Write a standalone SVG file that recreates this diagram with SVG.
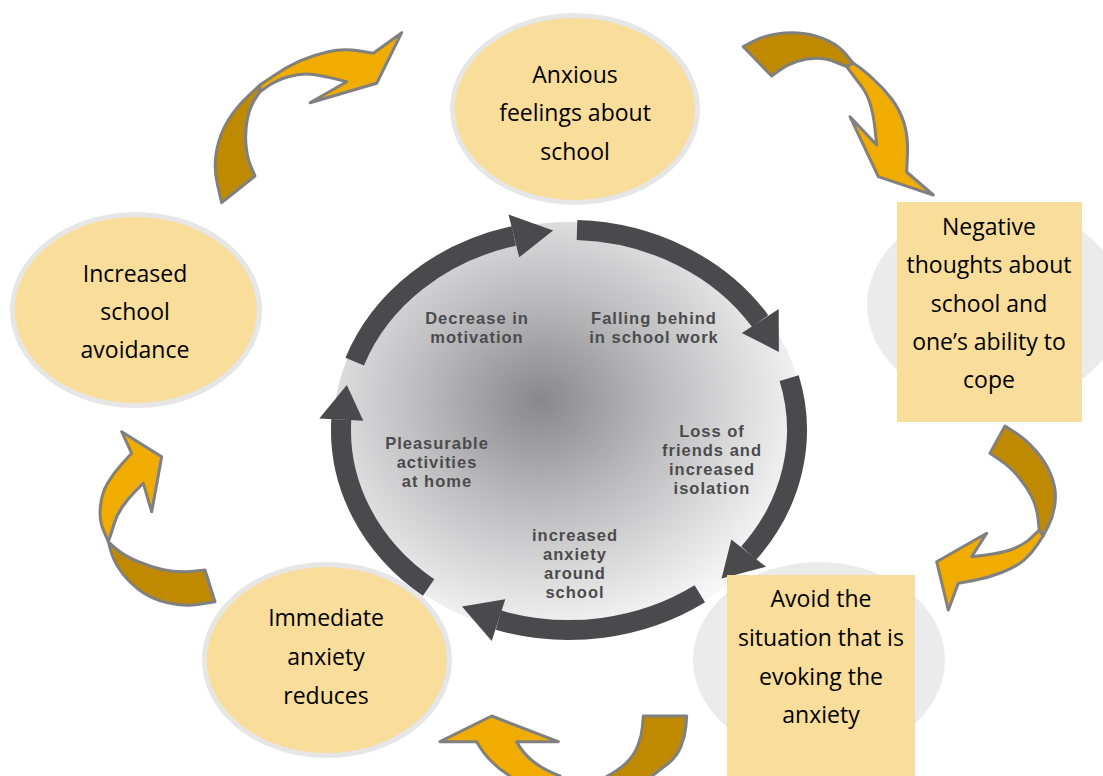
<svg xmlns="http://www.w3.org/2000/svg" width="1103" height="776" viewBox="0 0 1103 776">
<defs>
<radialGradient id="disk" cx="0.44" cy="0.43" r="0.58">
<stop offset="0" stop-color="#88888a"/>
<stop offset="0.45" stop-color="#bdbdbf"/>
<stop offset="1" stop-color="#f7f7f7"/>
</radialGradient>
<style>
.ring{fill:none;stroke:#4a4a4c;stroke-width:20;stroke-linecap:butt}
.head{fill:#4a4a4c}
.lbl{font-family:"Liberation Sans",Arial,sans-serif;font-weight:bold;font-size:16.5px;letter-spacing:1px;fill:#4b4b4d;text-anchor:middle}
.nt{font-family:"Open Sans","Liberation Sans",sans-serif;font-size:23px;fill:#000;text-anchor:middle}
.oval{fill:#f9dd9b;stroke:#e6e6e6;stroke-width:5}
.box{fill:#f9dd9b}
.shade{fill:#ebebeb}
.dark{fill:#c08a00;stroke:#808080;stroke-width:3;stroke-linejoin:round}
.light{fill:#f1ac00;stroke:#808080;stroke-width:3;stroke-linejoin:round}
</style>
</defs>
<rect width="1103" height="776" fill="#ffffff"/>

<g id="cycle">
<ellipse cx="569" cy="430" rx="236" ry="208" fill="url(#disk)"/>
<g id="cycle-arrows">
<path class="ring" d="M577,230.1 A228,200 0 0 1 760.2,321.1"/>
<polygon class="head" points="778.7,309.1 778.9,351.9 741.8,333.1"/>
<path class="ring" d="M789.2,378.2 A228,200 0 0 1 748.7,553.1"/>
<polygon class="head" points="766,566.7 721.6,578.6 731.3,539.6"/>
<path class="ring" d="M699.8,593.8 A228,200 0 0 1 498.5,620.2"/>
<polygon class="head" points="491.7,641.1 462,606.6 505.3,599.3"/>
<path class="ring" d="M428.6,587.6 A228,200 0 0 1 341.3,419.5"/>
<polygon class="head" points="319.3,418.4 346.8,385 363.3,420.7"/>
<path class="ring" d="M354.7,361.6 A228,200 0 0 1 513.8,235.9"/>
<polygon class="head" points="508.5,214.6 553.1,230.5 519.2,257.3"/>
</g>
<text class="lbl"><tspan x="477" y="324">Decrease in</tspan><tspan x="477" y="343">motivation</tspan></text>
<text class="lbl"><tspan x="654" y="324">Falling behind</tspan><tspan x="654" y="343">in school work</tspan></text>
<text class="lbl"><tspan x="712" y="437">Loss of</tspan><tspan x="712" y="456">friends and</tspan><tspan x="712" y="475">increased</tspan><tspan x="712" y="494">isolation</tspan></text>
<text class="lbl"><tspan x="437" y="449">Pleasurable</tspan><tspan x="437" y="468">activities</tspan><tspan x="437" y="487">at home</tspan></text>
<text class="lbl"><tspan x="575" y="541">increased</tspan><tspan x="575" y="560">anxiety</tspan><tspan x="575" y="579">around</tspan><tspan x="575" y="598">school</tspan></text>
</g>

<g id="node-anxious">
<ellipse class="oval" cx="575" cy="109" rx="122.5" ry="93.5"/>
<text class="nt"><tspan x="575" y="83">Anxious</tspan><tspan x="575" y="121">feelings about</tspan><tspan x="575" y="160">school</tspan></text>
</g>
<g id="node-negative">
<ellipse class="shade" cx="995" cy="305" rx="128" ry="101"/>
<rect class="box" x="897" y="202" width="185" height="220"/>
<text class="nt"><tspan x="989" y="235">Negative</tspan><tspan x="989" y="273">thoughts about</tspan><tspan x="989" y="312">school and</tspan><tspan x="989" y="350">one’s ability to</tspan><tspan x="989" y="388">cope</tspan></text>
</g>
<g id="node-avoid">
<ellipse class="shade" cx="819" cy="660" rx="126" ry="98"/>
<rect class="box" x="727" y="575" width="188" height="210"/>
<text class="nt"><tspan x="821" y="607">Avoid the</tspan><tspan x="821" y="646">situation that is</tspan><tspan x="821" y="685">evoking the</tspan><tspan x="821" y="723">anxiety</tspan></text>
</g>
<g id="node-immediate">
<ellipse class="oval" cx="327" cy="660" rx="122.5" ry="95.5"/>
<text class="nt"><tspan x="326" y="626">Immediate</tspan><tspan x="326" y="665">anxiety</tspan><tspan x="326" y="704">reduces</tspan></text>
</g>
<g id="node-avoidance">
<ellipse class="oval" cx="136" cy="310" rx="123.5" ry="95.5"/>
<text class="nt"><tspan x="135" y="282">Increased</tspan><tspan x="135" y="320">school</tspan><tspan x="135" y="358">avoidance</tspan></text>
</g>

<g id="connectors">
<g id="arrow-a">
<path class="dark" d="M221.7,202.7 L217.5,184.7 Q213.3,166.7 216.7,150 Q220,133.3 228.4,120 Q236.7,106.7 248.4,95.9 L260,85 L260,91.7 L255,99.2 Q250,106.7 247.5,118.4 Q245,130 245.9,143.4 Q246.7,156.7 250.9,166.4 L255,176 Z"/>
<path class="light" d="M260,85 L273.4,75.9 Q286.7,66.7 300,60.9 Q313.3,55 328.3,51.7 Q343.3,48.3 358.3,50.8 L373.3,53.3 L401.7,32.7 L376.7,83.3 L310,102.7 L346.7,81.7 L333.4,78.4 Q320,75 310,74.2 Q300,73.3 288.4,76.7 Q276.7,80 268.4,85.9 L260,91.7 Z"/>
</g>
<g id="arrow-b">
<path class="dark" d="M743.3,46.7 L753.3,41.4 Q763.3,36 776.7,33.9 Q790,31.7 803.4,33.4 Q816.7,35 828.4,40.9 Q840,46.7 846.5,54.9 L853,63 L846.7,66.7 L836.7,62.5 Q826.7,58.3 816.7,58.3 Q806.7,58.3 796.7,61.7 Q786.7,65 779.2,70.5 L771.7,76 Z"/>
<path class="light" d="M853,63 L858.2,66.5 Q863.3,70 873.3,79 Q883.3,88 891.7,99 Q900,110 904.2,123.5 Q908.3,137 907.5,154.5 L906.7,172 L933.3,195 L878.3,176.7 L850,116.7 L876.7,145 L875,129.2 Q873.3,113.3 870,103.3 Q866.7,93.3 861.7,86.7 Q856.7,80 851.7,73.4 L846.7,66.7 Z"/>
</g>
<g id="arrow-c">
<path class="dark" d="M990,453.3 L1005,426 L1015.9,433 Q1026.7,440 1036.7,451.7 Q1046.7,463.3 1051.7,476.7 Q1056.7,490 1055,503.4 Q1053.3,516.7 1048.2,526.4 L1043,536 L1039.3,530 L1038,518.4 Q1036.7,506.7 1031.7,496.7 Q1026.7,486.7 1018.4,476.7 Q1010,466.7 1000,460 Z"/>
<path class="light" d="M1043,536 L1037.4,544.7 Q1031.7,553.3 1024.2,560 Q1016.7,566.7 1001.7,572.5 Q986.7,578.3 972.5,580.8 L958.3,583.3 L948.3,610 L936.7,561.7 L986.7,533.3 L971.7,556.7 L985.9,555 Q1000,553.3 1010,550 Q1020,546.7 1028.4,540.4 L1039.3,530 Z"/>
</g>
<g id="arrow-d">
<path class="dark" d="M643.3,716 L686.7,716 L685.9,726.4 Q685,736.7 680.9,746.7 Q676.7,756.7 668.4,763.4 Q660,770 650,777.5 L640,785 L590,785 L603.4,778.4 Q616.7,771.7 625,764.2 Q633.3,756.7 637.5,746.7 Q641.7,736.7 642.5,726.4 Z"/>
<path class="light" d="M440,741.7 L491.7,716 L558.3,741.7 L516.7,741.7 Q528,764 560,776 L565,785 L520,785 L508.3,775 Q488,762 476.7,741.7 Z"/>
</g>
<g id="arrow-e">
<path class="dark" d="M205,570 L190.9,571.4 Q176.7,572.7 163.4,569.7 Q150,566.7 138.4,561.7 Q126.7,556.7 120,551.7 Q113.3,546.7 108.3,541.7 L110.8,550.9 Q113.3,560 120,570 Q126.7,580 138.4,589.2 Q150,598.3 166.7,602.5 Q183.3,606.7 199.2,604.2 L215,601.7 Z"/>
<path class="light" d="M108.3,541.7 L103.7,530.9 Q99,520 100.4,506.7 Q101.7,493.3 107.5,483.3 Q113.3,473.3 122.5,463.3 L131.7,453.3 L121.7,431.7 L161.7,456.7 L151.7,511.7 L143.3,483.3 L135.8,490.8 Q128.3,498.3 122.5,506.7 Q116.7,515 114.2,523.5 Q111.7,532 108.3,541.7 Z"/>
</g>
</g>
</svg>
